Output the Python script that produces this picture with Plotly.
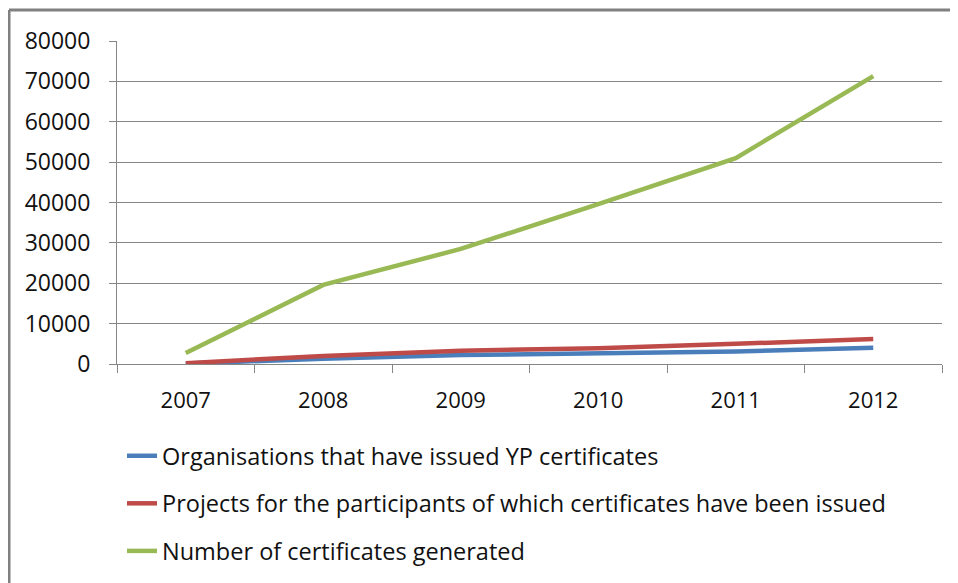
import plotly.graph_objects as go

years = ["2007", "2008", "2009", "2010", "2011", "2012"]
organisations = [100, 1300, 2200, 2600, 3100, 4000]
projects = [200, 2000, 3300, 3900, 5000, 6200]
certificates = [2700, 19600, 28500, 39600, 51000, 71300]

names = [
    "Organisations that have issued YP certificates",
    "Projects for the participants of which certificates have been issued",
    "Number of certificates generated",
]
colors = ["#4a7ebb", "#be4b48", "#98b954"]

fig = go.Figure()
for i, (vals, name) in enumerate(zip([organisations, projects, certificates], names)):
    fig.add_trace(go.Scatter(x=years, y=vals, mode="lines", name=name,
                             legendgroup=str(i),
                             line=dict(color=colors[i], width=4.5)))

# page has an 8px body margin, so everything is placed 8px up/left
W, H = 942, 580
L, T, R, B = 109, 33, 8, 224
pw, ph = W - L - R, H - T - B
y0 = T + ph  # pixel row of the x axis

border = dict(color="#808080", width=3)
font = "Open Sans, DejaVu Sans, sans-serif"
fig.update_layout(
    width=W, height=H,
    margin=dict(l=L, r=R, t=T, b=B),
    plot_bgcolor="white", paper_bgcolor="white",
    font=dict(family=font, size=22, color="#111111"),
    legend=dict(x=(114 - L) / pw, y=-(426 - y0) / ph, xanchor="left", yanchor="top",
                orientation="v", tracegroupgap=14, font=dict(size=23.5)),
    xaxis=dict(type="category", range=[-0.5, 5.5], showline=True,
               linecolor="#868686", linewidth=1, ticks="outside",
               tickson="boundaries", ticklen=8, tickcolor="#868686",
               showgrid=False, ticklabelstandoff=17),
    yaxis=dict(range=[0, 80000], dtick=10000, showline=True,
               linecolor="#868686", linewidth=1, ticks="outside",
               ticklen=7, tickcolor="#868686", gridcolor="#868686",
               gridwidth=1, zeroline=False, ticklabelstandoff=14,
               tickformat="d", tickfont=dict(size=23)),
    shapes=[
        dict(type="line", xref="paper", yref="paper",
             x0=(1 - L) / pw, x1=1.2, y0=(y0 - 2) / ph, y1=(y0 - 2) / ph, line=border),
        dict(type="line", xref="paper", yref="paper",
             x0=(1 - L) / pw, x1=(1 - L) / pw, y0=(y0 - 2) / ph, y1=-(620 - y0) / ph, line=border),
    ],
)

fig.write_html("out.html")
